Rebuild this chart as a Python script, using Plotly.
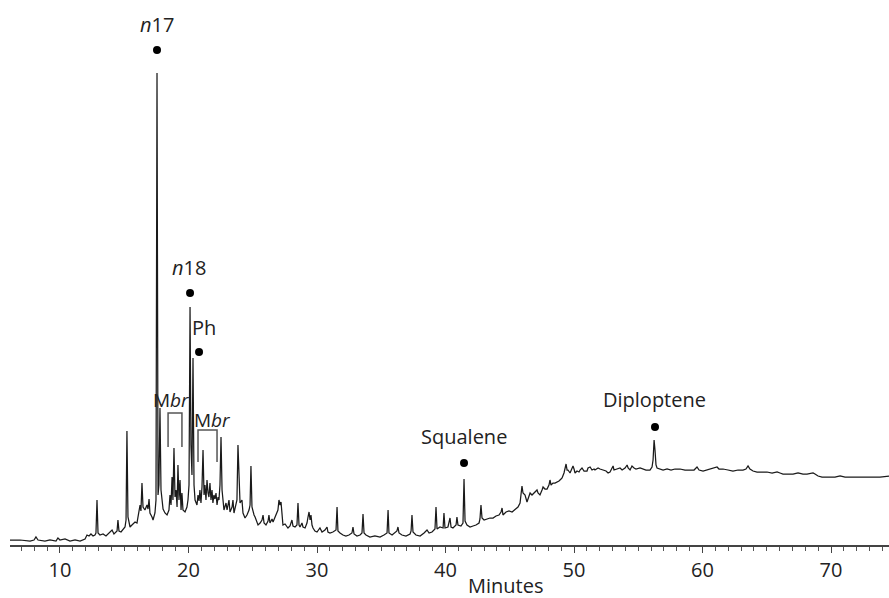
import plotly.graph_objects as go

# Retention time (minutes) and detector response (arbitrary units)
time_min = [
    6.11, 6.89, 7.67, 7.98, 8.13, 8.29, 8.83, 9.22, 9.69, 9.84, 10.00, 10.39, 10.78, 11.17, 11.56, 11.95,
    12.10, 12.26, 12.41, 12.57, 12.72, 12.80, 12.88, 12.96, 13.11, 13.35, 13.58, 13.81, 14.05, 14.20, 14.44,
    14.51, 14.59, 14.75, 14.98, 15.06, 15.14, 15.21, 15.29, 15.45, 15.60, 15.84, 15.99, 16.15, 16.23, 16.30,
    16.38, 16.46, 16.61, 16.77, 16.85, 16.93, 17.00, 17.16, 17.24, 17.39, 17.47, 17.55, 17.63, 17.70, 17.78,
    17.86, 18.02, 18.17, 18.33, 18.48, 18.56, 18.64, 18.72, 18.79, 18.87, 18.95, 19.03, 19.11, 19.18, 19.26,
    19.34, 19.42, 19.49, 19.57, 19.73, 19.88, 19.96, 20.04, 20.12, 20.19, 20.27, 20.35, 20.43, 20.51, 20.66,
    20.74, 20.82, 20.89, 20.97, 21.05, 21.13, 21.21, 21.28, 21.36, 21.44, 21.52, 21.59, 21.67, 21.75, 21.83,
    21.90, 21.98, 22.06, 22.14, 22.22, 22.30, 22.37, 22.45, 22.53, 22.61, 22.68, 22.76, 22.92, 23.00, 23.15,
    23.23, 23.39, 23.46, 23.54, 23.70, 23.77, 23.85, 23.93, 24.01, 24.16, 24.24, 24.40, 24.55, 24.71, 24.79,
    24.86, 24.94, 25.10, 25.18, 25.41, 25.57, 25.72, 25.80, 25.88, 26.03, 26.19, 26.26, 26.34, 26.50, 26.58,
    26.73, 26.81, 26.96, 27.04, 27.12, 27.20, 27.27, 27.35, 27.51, 27.74, 27.90, 28.05, 28.13, 28.29, 28.44,
    28.52, 28.60, 28.68, 28.83, 28.91, 29.07, 29.22, 29.30, 29.38, 29.46, 29.53, 29.61, 29.69, 29.84, 30.00,
    30.23, 30.39, 30.62, 30.78, 30.85, 31.01, 31.24, 31.48, 31.56, 31.63, 31.79, 32.02, 32.25, 32.49, 32.72,
    32.80, 32.88, 33.11, 33.35, 33.50, 33.58, 33.66, 33.81, 34.12, 34.51, 34.90, 35.21, 35.45, 35.53, 35.60,
    35.84, 36.07, 36.22, 36.30, 36.38, 36.61, 36.92, 37.24, 37.32, 37.39, 37.47, 37.70, 38.02, 38.33, 38.56,
    38.72, 38.95, 39.18, 39.26, 39.34, 39.57, 39.81, 39.88, 39.96, 40.19, 40.35, 40.43, 40.58, 40.82, 40.89,
    40.97, 41.20, 41.36, 41.44, 41.52, 41.67, 41.91, 42.14, 42.37, 42.61, 42.68, 42.76, 42.84, 43.00, 43.23,
    43.46, 43.70, 43.93, 44.16, 44.32, 44.40, 44.47, 44.71, 44.94, 45.18, 45.41, 45.64, 45.80, 45.88, 45.95,
    46.03, 46.19, 46.34, 46.50, 46.58, 46.73, 46.89, 47.04, 47.12, 47.20, 47.35, 47.51, 47.59, 47.74, 47.90,
    48.05, 48.13, 48.21, 48.36, 48.52, 48.68, 48.83, 48.99, 49.07, 49.22, 49.38, 49.46, 49.53, 49.69, 49.77,
    49.92, 50.00, 50.08, 50.23, 50.39, 50.47, 50.62, 50.78, 51.01, 51.09, 51.25, 51.40, 51.56, 51.63, 51.79,
    51.87, 52.02, 52.26, 52.49, 52.65, 52.80, 52.96, 53.04, 53.11, 53.35, 53.58, 53.74, 53.97, 54.13, 54.21,
    54.36, 54.51, 54.67, 54.82, 55.14, 55.37, 55.60, 55.91, 56.07, 56.15, 56.23, 56.30, 56.38, 56.46, 56.69,
    56.93, 57.24, 57.55, 57.86, 58.25, 58.64, 59.03, 59.34, 59.57, 59.73, 60.04, 60.35, 60.74, 61.13, 61.28,
    61.59, 61.98, 62.37, 62.76, 63.15, 63.38, 63.54, 63.69, 63.93, 64.24, 64.63, 65.02, 65.41, 65.80, 66.03,
    66.26, 66.65, 67.04, 67.43, 67.82, 68.13, 68.60, 68.75, 68.99, 69.30, 69.77, 70.31, 70.70, 71.09, 71.48,
    72.26, 73.04, 73.81, 74.51,
]
response = [
    5, 5, 4, 5, 8, 5, 4, 5, 4, 7, 5, 6, 4, 5, 4, 6,
    10, 9, 11, 9, 10, 12, 45, 12, 10, 11, 9, 12, 15, 11, 14,
    25, 14, 13, 16, 18, 25, 114, 28, 18, 20, 23, 22, 33, 40, 34,
    62, 38, 35, 40, 36, 46, 32, 28, 25, 32, 45, 472, 50, 60, 137,
    55, 36, 32, 30, 35, 50, 40, 68, 45, 97, 48, 55, 38, 80, 45,
    65, 35, 52, 35, 33, 38, 45, 60, 238, 100, 70, 187, 60, 45, 40,
    50, 44, 55, 42, 58, 95, 50, 60, 45, 65, 52, 48, 62, 45, 55,
    42, 50, 46, 52, 40, 48, 45, 60, 108, 55, 40, 35, 42, 35, 45,
    33, 38, 45, 32, 40, 45, 100, 55, 42, 45, 32, 27, 30, 35, 40,
    79, 38, 30, 28, 20, 22, 25, 30, 22, 20, 24, 30, 22, 26, 23,
    28, 32, 35, 45, 40, 43, 30, 20, 21, 17, 19, 25, 19, 18, 20,
    42, 20, 18, 22, 18, 17, 22, 28, 33, 25, 30, 20, 17, 14, 13,
    17, 13, 15, 18, 13, 12, 13, 15, 38, 14, 12, 10, 9, 10, 12,
    18, 11, 9, 10, 12, 31, 12, 10, 8, 9, 8, 10, 12, 35, 12,
    10, 12, 14, 18, 12, 10, 9, 11, 14, 30, 13, 10, 9, 12, 15,
    12, 13, 16, 38, 16, 18, 17, 32, 17, 18, 27, 18, 17, 20, 28,
    20, 19, 22, 66, 24, 20, 18, 19, 20, 22, 26, 40, 27, 25, 26,
    27, 27, 29, 30, 33, 37, 30, 33, 34, 33, 36, 38, 42, 52, 59,
    52, 50, 43, 48, 52, 50, 52, 53, 55, 52, 50, 55, 58, 56, 56,
    60, 65, 60, 62, 62, 63, 64, 66, 67, 72, 81, 75, 75, 72, 74,
    79, 76, 72, 74, 73, 75, 77, 74, 74, 77, 78, 75, 76, 75, 77,
    77, 76, 75, 74, 72, 73, 77, 79, 75, 76, 77, 75, 77, 80, 77,
    75, 79, 77, 76, 77, 76, 75, 75, 78, 85, 105, 95, 80, 77, 76,
    75, 76, 75, 76, 76, 75, 75, 75, 78, 75, 74, 75, 76, 78, 76,
    76, 75, 74, 75, 75, 76, 79, 76, 74, 73, 73, 73, 72, 73, 72,
    71, 71, 71, 72, 71, 71, 72, 71, 69, 68, 68, 68, 69, 68, 68,
    68, 68, 68, 69,
]

# Labelled compounds (dot positions)
peak_names = ["<i>n</i>17", "<i>n</i>18", "Ph", "Squalene", "Diploptene"]
peak_times = [17.55, 20.12, 20.82, 41.44, 56.30]
peak_marks = [495, 252, 193, 82, 118]

# Methyl-branched alkane groups (bracket start, end, top, leg bottom)
mbr_start = [18.41, 20.74]
mbr_end = [19.49, 22.22]
mbr_top = [132, 115]
mbr_bottom = [98, 83]

tick_vals = [10, 20, 30, 40, 50, 60, 70]
x_title = "Minutes"

FONT = "Open Sans"
TXT = "#222222"

fig = go.Figure()
fig.add_trace(go.Scatter(
    x=time_min, y=response, mode="lines",
    line=dict(color="#1a1a1a", width=1.25), hoverinfo="skip", showlegend=False))
fig.add_trace(go.Scatter(
    x=peak_times, y=peak_marks, mode="markers",
    marker=dict(color="black", size=8), hoverinfo="skip", showlegend=False))

label_xshift = [0, -1, 5, 0, 0]
label_yshift = [26, 26, 25, 27, 28]
for name, t, h, xs, ys in zip(peak_names, peak_times, peak_marks, label_xshift, label_yshift):
    fig.add_annotation(x=t, y=h, text=name, showarrow=False, xshift=xs, yshift=ys,
                       font=dict(family=FONT, size=20, color=TXT))

mbr_xshift = [-4, 5]
mbr_yshift = [13, 10]
for s, e, top, bot, xs, ys in zip(mbr_start, mbr_end, mbr_top, mbr_bottom, mbr_xshift, mbr_yshift):
    fig.add_shape(type="path",
                  path=f"M {s},{bot} L {s},{top} L {e},{top} L {e},{bot}",
                  xref="x", yref="y", line=dict(color="#555555", width=1.5))
    fig.add_annotation(x=(s + e) / 2, y=top, text="M<i>br</i>", showarrow=False,
                       xshift=xs, yshift=ys, font=dict(family=FONT, size=19, color=TXT))

fig.add_annotation(x=44.7, y=0, xref="x", yref="paper", yanchor="middle", yshift=-40,
                   text=x_title, showarrow=False, font=dict(family=FONT, size=20, color=TXT))

fig.update_layout(
    width=889, height=598,
    margin=dict(l=10, r=0, t=0, b=53),
    paper_bgcolor="white", plot_bgcolor="white",
    xaxis=dict(range=[6.11, 74.51], tickvals=tick_vals, ticks="outside", ticklen=6,
               tickcolor="#444444", tickwidth=1, showline=True, linecolor="#444444",
               linewidth=1.5, showgrid=False, zeroline=False,
               tickfont=dict(family=FONT, size=20, color=TXT),
               minor=dict(dtick=1, ticks="outside", ticklen=4, tickcolor="#555555", showgrid=False)),
    yaxis=dict(range=[0, 545], visible=False, fixedrange=True),
)

# remove the browser's default 8px body margin so the figure fills the window exactly
fig.write_html("out.html",
               config={"displayModeBar": False, "staticPlot": True},
               post_script="document.body.style.margin='0';document.body.style.overflow='hidden';")
